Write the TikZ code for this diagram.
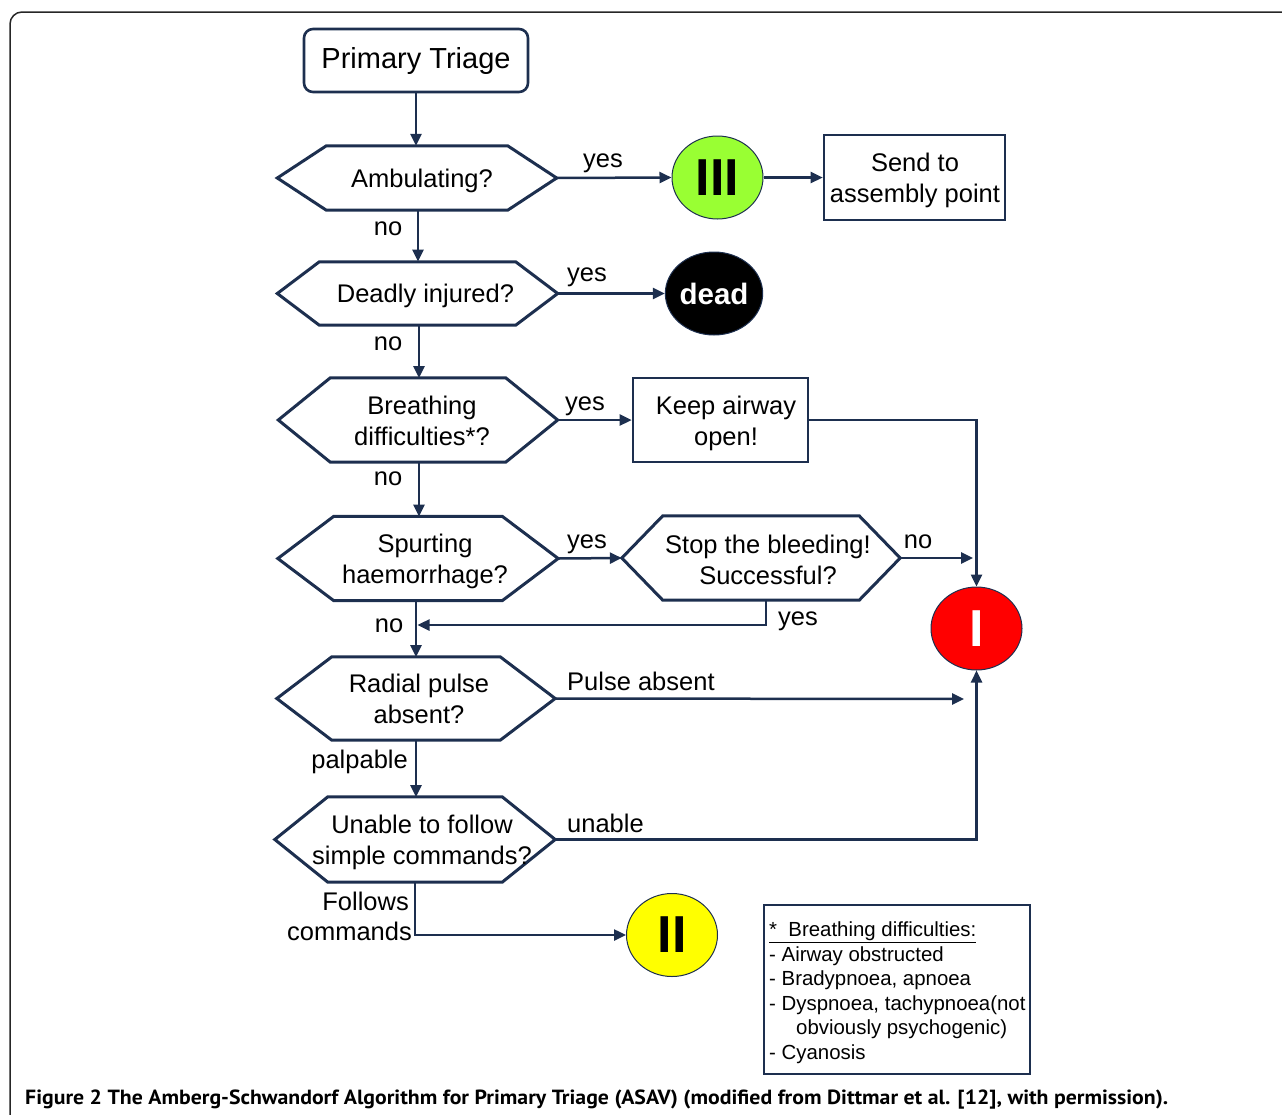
\documentclass[tikz,border=0pt]{standalone}
\usepackage{graphicx}
\usepackage{fontspec}
\setmainfont{Liberation Sans}
\newfontfamily\capfont{PT Sans}
\usetikzlibrary{arrows.meta,calc,shapes.geometric}
\definecolor{navy}{HTML}{1D2F4F}
\definecolor{tgreen}{HTML}{99FF33}
\definecolor{tyellow}{HTML}{FFFF00}
\definecolor{tred}{HTML}{FF0000}
\newcommand\mainfs{\fontsize{25.5}{31}\selectfont}
\newcommand\bigI{\fontsize{52}{52}\selectfont\bfseries}
% name, x, y, halfwidth, halfheight, slant, text dx, text dy, text
\newcommand\hexnode[9]{%
  \node[hexbox, minimum width=#4*2pt, minimum height=#5*2pt] (#1) at (#2,#3) {};
  \draw[hexline] (#1.west) -- ([xshift=#6pt]#1.north west) -- ([xshift=-#6pt]#1.north east)
    -- (#1.east) -- ([xshift=-#6pt]#1.south east) -- ([xshift=#6pt]#1.south west) -- cycle;
  \node[hextext] (#1-t) at ($(#1.center)+(#7,#8)$) {#9};}
\tikzset{
  hexbox/.style={shape=rectangle, inner sep=0pt},
  hextext/.style={inner sep=0pt, align=center, font=\mainfs},
  hexline/.style={draw=navy, line width=3pt, line join=miter},
  sqbox/.style={draw=navy, line width=2.6pt, inner sep=0pt},
  circ/.style={ellipse, draw=navy, line width=1pt, minimum width=91pt, minimum height=83pt, inner sep=0pt},
  conn/.style={draw=navy, line width=2.5pt},
  arr/.style={conn, -{Triangle[length=12pt,width=11pt]}},
  lab/.style={font=\mainfs, inner sep=0pt, anchor=base},
}
\begin{document}
\begin{tikzpicture}[x=1pt,y=-1pt]
\useasboundingbox (0,0) rectangle (1282,1114);
\begin{scope}
  \clip (0,0) rectangle (1282,1114);
  \draw[line width=1.5pt, draw=black!85, rounded corners=12pt] (10,12) rectangle (1330,1150);
\end{scope}

% start
\node[draw=navy, line width=2.6pt, rounded corners=9pt, minimum width=224pt, minimum height=63pt,
  inner sep=0pt, font=\fontsize{29}{34}\selectfont] (pt) at (416,60.5) {Primary Triage};

% decisions
\hexnode{amb}{417}{178}{139.5}{32}{49}{5}{3}{Ambulating?}
\hexnode{dq}{417.5}{293.5}{140}{31.5}{42}{8}{2}{Deadly injured?}
\hexnode{br}{418}{420}{139.5}{42}{52}{4}{0.5}{Breathing\\difficulties*?}
\hexnode{sp}{418}{558.5}{140}{42}{56}{7}{3}{Spurting\\haemorrhage?}
\hexnode{stop}{761}{558}{139}{42}{41}{7}{2}{Stop the bleeding!\\Successful?}
\hexnode{rad}{416}{698.5}{139}{41.5}{55}{3}{0.5}{Radial pulse\\absent?}
\hexnode{un}{415}{839.5}{140}{42.5}{53}{7}{3}{Unable to follow\\simple commands?}

% boxes
\node[sqbox, minimum width=181pt, minimum height=85pt] (send) at (914.5,177.5) {};
\node[hextext] (send-t) at (915,180.5) {Send to\\assembly point};
\node[sqbox, minimum width=175pt, minimum height=84pt] (keep) at (720.5,420) {};
\node[hextext] (keep-t) at (726,423) {Keep airway\\open!};

% circles
\node[circ, fill=tgreen] (c3) at (717.5,177.5) {\bigI III};
\node[circ, fill=black, text=white, font=\fontsize{29.5}{30}\selectfont\bfseries] (dead) at (714,293.5) {dead};
\node[circ, fill=tred, text=white] (c1) at (976.5,628.5) {\bigI I};
\node[circ, fill=tyellow] (c2) at (672,935) {\bigI II};

% connectors
\draw[arr] (pt.south) -- (pt.south |- amb.north);
\draw[arr] (amb.east) -- (c3.west);
\draw[arr] (c3.east) -- (send.west);
\draw[arr] (418,210) -- (418,261.5);
\draw[arr] (dq.east) -- (dead.west);
\draw[arr] (419,325) -- (419,378);
\draw[arr] (br.east) -- (keep.west);
\draw[arr] (keep.east) -- (keep.east -| c1.north) -- (c1.north);
\draw[arr] (419,462) -- (419,516.5);
\draw[arr] (sp.east) -- (stop.west);
\coordinate (noend) at (973,558);
\draw[arr] (stop.east) -- (noend);
\draw[arr] (416,600.5) -- (416,657);
\coordinate (yesturn) at (766,625);
\draw[arr] (766,600) -- (yesturn) -- (417.5,625);
\coordinate (pulseend) at (964,699);
\draw[arr] (rad.east) -- (pulseend);
\draw[arr] (416,740) -- (416,797);
\draw[arr] (un.east) -- (un.east -| c1.south) -- (c1.south);
\draw[arr] (415,882) -- (415,935) -- (c2.west);

% labels
\node[lab] (l1) at (603,167) {yes};
\node[lab] (l2) at (388,235.5) {no};
\node[lab] (l3) at (587,281) {yes};
\node[lab] (l4) at (388,350) {no};
\node[lab] (l5) at (585,410) {yes};
\node[lab] (l6) at (388,485) {no};
\node[lab] (l7) at (587,548) {yes};
\node[lab] (l8) at (918,548) {no};
\node[lab] (l9) at (798,625) {yes};
\node[lab] (l10) at (389,632) {no};
\node[lab, anchor=base west] (l11) at (567,690) {Pulse absent};
\node[lab, anchor=base east] (l12) at (408,768) {palpable};
\node[lab, anchor=base west] (l13) at (567,832) {unable};
\node[lab, anchor=base east] (l14) at (409,910) {Follows};
\node[lab, anchor=base east] (l15) at (412,940) {commands};

% legend
\node[draw=navy, line width=2pt, minimum width=266pt, minimum height=169pt, anchor=north west, inner sep=0pt] (leg) at (763,904) {};
\node[anchor=north west, inner sep=0pt, align=left, font=\fontsize{20.4}{24.5}\selectfont] (legtxt) at (769,922)
 {\underline{*\ \ Breathing difficulties:}\\- Airway obstructed\\- Bradypnoea, apnoea\\- Dyspnoea, tachypnoea(not\\\hspace*{27pt}obviously psychogenic)\\- Cyanosis};

% caption
\node[anchor=base west, inner sep=0pt] (cap) at (25,1104)
 {\resizebox{1143pt}{\height}{\capfont\fontsize{20.5}{24}\selectfont\bfseries Figure 2 The Amberg-Schwandorf Algorithm for Primary Triage (ASAV) (modified from Dittmar et al. [12], with permission).}};
\end{tikzpicture}
\end{document}
